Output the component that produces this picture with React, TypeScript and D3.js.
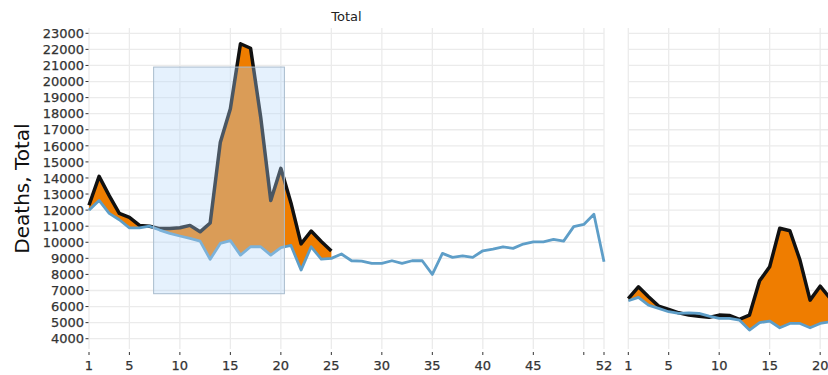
import * as d3 from "d3";

// weekly deaths, first panel (full year) and second panel (partial)
const weeksLeft = d3.range(1, 53);
const observedLeft = [
  12300, 14100, 12900, 11800, 11550, 11050, 11000, 10850, 10850, 10900, 11050,
  10650, 11200, 16200, 18300, 22350, 22070, 17800, 12600, 14600, 12450, 9900,
  10700, 10050, 9450,
];
const expectedLeft = [
  12000, 12600, 11800, 11400, 10900, 10900, 11000, 10760, 10550, 10390, 10240,
  10070, 8940, 9930, 10100, 9200, 9720, 9720, 9200, 9660, 9800, 8270, 9720,
  8950, 9000, 9270, 8850, 8830, 8690, 8690, 8850, 8690, 8850, 8850, 8000, 9310,
  9060, 9150, 9060, 9470, 9580, 9720, 9620, 9890, 10030, 10030, 10180, 10070,
  10970, 11110, 11740, 8790,
];
const observedRight = [
  6500, 7230, 6610, 6030, 5820, 5610, 5470, 5400, 5330, 5470, 5450, 5200, 5470,
  7600, 8480, 10870, 10720, 8890, 6400, 7270, 6500,
];
const expectedRight = [
  6360, 6570, 6090, 5890, 5680, 5580, 5610, 5580, 5410, 5270, 5270, 5160, 4540,
  5000, 5100, 4680, 4950, 4950, 4680, 4950, 5050,
];

const yTicks = d3.range(4000, 23001, 1000);
const xTicksLeft = [1, 5, 10, 15, 20, 25, 30, 35, 40, 45, 50, 52];
const xTickLabelsLeft = ["1", "5", "10", "15", "20", "25", "30", "35", "40", "45", "", "52"];
const xTicksRight = [1, 5, 10, 15, 20, 25];

// highlighted period: [week start, week end, deaths low, deaths high]
const highlight = [7.4, 20.35, 6800, 20900];

const W = 828;
const H = 375;
const top = 28;
const bottom = 349;
const font = "'DejaVu Sans', Verdana, sans-serif";

type Pt = { w: number; obs: number; exp: number };

function Panel({ x, y, obs, exp, xTicks, xLabels, clip }: any) {
  const pts: Pt[] = obs.map((o: number, i: number) => ({ w: i + 1, obs: o, exp: exp[i] }));
  const expPts = exp.map((e: number, i: number) => ({ w: i + 1, exp: e }));
  const [x0, x1] = x.range();

  const area = d3
    .area<Pt>()
    .x((d) => x(d.w))
    .y0((d) => y(d.exp))
    .y1((d) => y(Math.max(d.obs, d.exp)));
  const obsLine = d3
    .line<Pt>()
    .x((d) => x(d.w))
    .y((d) => y(d.obs));
  const expLine = d3
    .line<any>()
    .x((d) => x(d.w))
    .y((d) => y(d.exp));

  return (
    <g>
      <g stroke="#ebebeb" strokeWidth={1.3}>
        {yTicks.map((t) => (
          <line key={"h" + t} x1={x0} x2={Math.min(x1, W)} y1={y(t)} y2={y(t)} />
        ))}
        {xTicks.map((t: number) => (
          <line key={"v" + t} x1={x(t)} x2={x(t)} y1={top} y2={bottom} />
        ))}
      </g>
      <path d={area(pts) || ""} fill="#ef7d00" />
      <path d={obsLine(pts) || ""} fill="none" stroke="#111" strokeWidth={3.5} strokeLinejoin="round" />
      <path d={expLine(expPts) || ""} fill="none" stroke="#5e9ec8" strokeWidth={2.8} strokeLinejoin="round" />
      {clip}
      <g stroke="#333" strokeWidth={1}>
        {xTicks.map((t: number) => (
          <line key={"t" + t} x1={x(t)} x2={x(t)} y1={352} y2={355} />
        ))}
      </g>
      <g fontFamily={font} fontSize={13} fill="#333" stroke="#333" strokeWidth={0.25} textAnchor="middle">
        {xTicks.map((t: number, i: number) => (
          <text key={"l" + t} x={x(t)} y={370}>
            {xLabels ? xLabels[i] : String(t)}
          </text>
        ))}
      </g>
    </g>
  );
}

export default function App() {
  const y = d3.scaleLinear().domain([3360, 23330]).range([bottom, top]);
  const xL = d3.scaleLinear().domain([1, 52]).range([89, 604]);
  const xR = d3.scaleLinear().domain([1, 52]).range([628.3, 628.3 + 515]);
  const [hx0, hx1, hy0, hy1] = highlight;

  const rect = (
    <rect
      x={xL(hx0)}
      y={y(hy1)}
      width={xL(hx1) - xL(hx0)}
      height={y(hy0) - y(hy1)}
      fill="#b4d7fa"
      fillOpacity={0.35}
      stroke="#a9bccd"
      strokeWidth={1}
    />
  );

  return (
    <svg
      width={W}
      height={H}
      style={{ position: "absolute", left: 0, top: 0, display: "block", background: "#fff" }}
    >
      <Panel
        x={xL}
        y={y}
        obs={observedLeft}
        exp={expectedLeft}
        xTicks={xTicksLeft}
        xLabels={xTickLabelsLeft}
        clip={rect}
      />
      <Panel x={xR} y={y} obs={observedRight} exp={expectedRight} xTicks={xTicksRight} />
      <g fontFamily={font} fontSize={13} fill="#333" stroke="#333" strokeWidth={0.25} textAnchor="end">
        {yTicks.map((t) => (
          <text key={t} x={84} y={y(t)} dy="0.36em">
            {t}
          </text>
        ))}
      </g>
      <g stroke="#333" strokeWidth={1}>
        {yTicks.map((t) => (
          <line key={t} x1={85.5} x2={88.5} y1={y(t)} y2={y(t)} />
        ))}
      </g>
      <text
        x={(xL(1) + xL(52)) / 2}
        y={21}
        textAnchor="middle"
        fontFamily={font}
        fontSize={13}
        fill="#222"
      >
        Total
      </text>
      <text
        transform={`translate(29, ${(top + bottom) / 2}) rotate(-90)`}
        textAnchor="middle"
        fontFamily={font}
        fontSize={20}
        fill="#111"
      >
        Deaths, Total
      </text>
    </svg>
  );
}
